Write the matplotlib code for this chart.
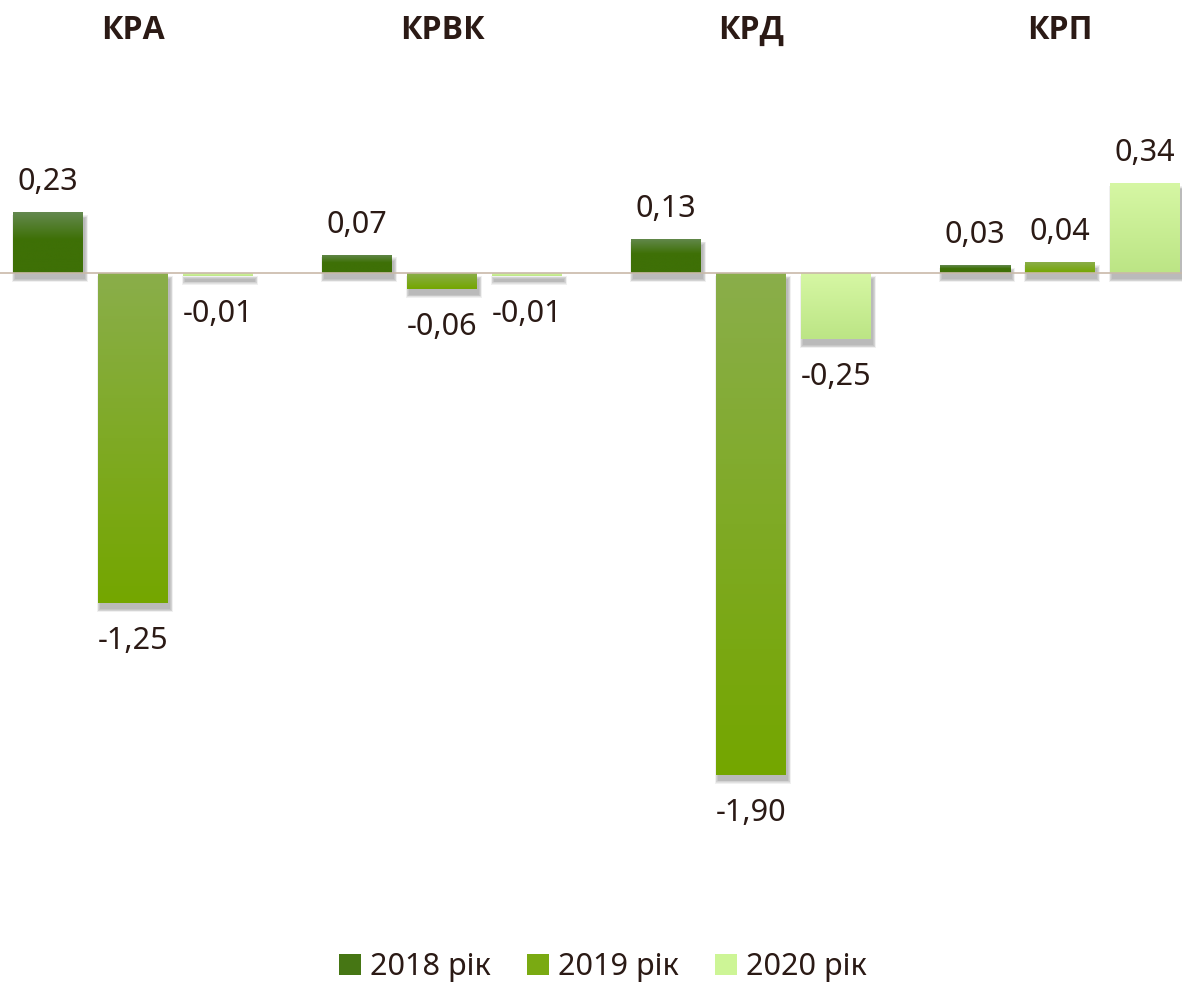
import numpy as np
import matplotlib
matplotlib.use("Agg")
import matplotlib.pyplot as plt
from matplotlib.patches import Rectangle, Patch
from matplotlib.colors import to_rgb
import matplotlib.transforms as mtransforms

plt.rcParams['font.family'] = ['Noto Sans', 'DejaVu Sans']

groups = ['КРА', 'КРВК', 'КРД', 'КРП']
years = ['2018 рік', '2019 рік', '2020 рік']
v2018 = [0.23, 0.07, 0.13, 0.03]
v2019 = [-1.25, -0.06, -1.90, 0.04]
v2020 = [-0.01, -0.01, -0.25, 0.34]

# top colour, bottom colour, legend colour
grads = [('#64894f', '#3e7006', '#467614'),
         ('#8aae4a', '#74a600', '#7aaa12'),
         ('#d6f7a4', '#bce585', '#cdf596')]

text_col = '#2b1a15'
px = 1.0 / 309          # one pixel in data units along x
step = 85 * px
width = 70 * px

fig = plt.figure(figsize=(11.82, 9.85), dpi=100)
ax = fig.add_axes([0, 0, 1, 1])
ax.set_xlim(-133 * px, (1182 - 133) * px)
ax.set_ylim(-(985 - 273) / 264, 273 / 264)
ax.axis('off')

ax.axhline(0, color='#c9b9a9', lw=1.2, zorder=3)

x = np.arange(len(groups))
for j, vals in enumerate([v2018, v2019, v2020]):
    top, bot, _ = grads[j]
    c1, c2 = np.array(to_rgb(top)), np.array(to_rgb(bot))
    t = np.linspace(0, 1, 100)
    if j == 0:
        t = np.clip(t / 0.45, 0, 1)
    grad = (c1[None, :] * (1 - t[:, None]) + c2[None, :] * t[:, None])[:, None, :]
    for i, v in enumerate(vals):
        xc = x[i] + (j - 1) * step
        x0 = xc - width / 2
        y0, y1 = min(0, v), max(0, v)
        # soft shadow
        sh = mtransforms.offset_copy(ax.transData, fig=fig, x=2, y=-6, units='dots')
        for k in range(5):
            ax.add_patch(Rectangle((x0 - k * px * 0.8, y0 - k * 0.003), width + k * px * 1.6,
                                   (y1 - y0) + k * 0.006, transform=sh,
                                   color='black', alpha=0.06, lw=0, zorder=1))
        bars = ax.bar(xc, v, width=width, color=bot, lw=0, zorder=2)
        im = ax.imshow(grad, extent=[x0, x0 + width, y0, y1], aspect='auto',
                       origin='upper', zorder=2.5)
        im.set_clip_path(bars[0])
        label = f"{v:.2f}".replace('.', ',')
        if v >= 0:
            ax.annotate(label, (xc, v), xytext=(0, 30), textcoords='offset pixels',
                        ha='center', va='center', fontsize=22, color=text_col)
        else:
            ax.annotate(label, (xc, v), xytext=(0, -38), textcoords='offset pixels',
                        ha='center', va='center', fontsize=22, color=text_col)

for i, g in enumerate(groups):
    ax.text(x[i], 1.034 - 30 / 264, g, ha='center', va='center', fontsize=23,
            fontweight='bold', color=text_col, family=['Open Sans', 'DejaVu Sans'])

handles = [Patch(facecolor=grads[j][2], edgecolor='none') for j in range(3)]
fig.legend(handles, years, loc='center', bbox_to_anchor=(0.51, 0.018), ncol=3,
           frameon=False, fontsize=22, handlelength=0.7, handleheight=0.7,
           handletextpad=0.3, columnspacing=1.2, labelcolor=text_col)

fig.savefig('out.png', dpi=100)
